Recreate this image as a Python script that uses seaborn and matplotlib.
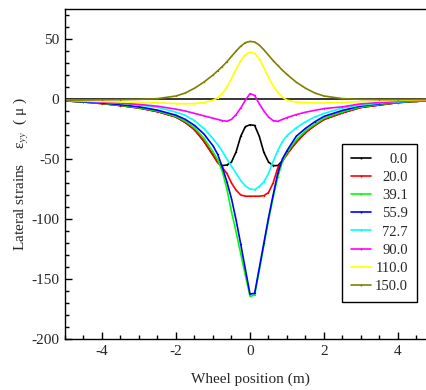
import numpy as np
import pandas as pd
import seaborn as sns
import matplotlib.pyplot as plt
from matplotlib.ticker import MultipleLocator

# Wheel position (m)
x = [-5, -4.5, -4, -3.5, -3, -2.5, -2, -1.75, -1.5, -1.25, -1, -0.875, -0.75,
     -0.625, -0.5, -0.375, -0.25, -0.125, 0, 0.125, 0.25, 0.375, 0.5, 0.625,
     0.75, 0.875, 1, 1.25, 1.5, 1.75, 2, 2.5, 3, 3.5, 4, 4.5, 5]

# Lateral strains per series (micro strain)
s_00 = [-1.5, -2.5, -3.8, -5.5, -7.5, -10.5, -15, -19.5, -25.5, -35, -46.5, -52.5, -55.5,
        -55, -52.5, -44, -31, -23, -21.5, -22, -31, -44.5, -52.5, -55.5,
        -55.5, -51.5, -45.5, -36, -28, -22, -17, -11.5, -7, -5, -3, -2, -1]
s_20 = [-1.5, -2.5, -3.8, -5.5, -7.5, -10.5, -15, -19.5, -25.5, -35, -47, -53, -57,
        -62, -70, -76, -80, -81, -81, -81, -81, -80.5, -78, -70,
        -57.5, -52, -46, -36, -28, -22, -17, -11.5, -7, -5, -3, -2, -1]
s_39 = [-1.5, -2.4, -3.6, -5.2, -7.2, -10, -14.5, -18.5, -24, -32.5, -44, -50.5, -60,
        -75, -94, -111, -129, -147, -164.5, -163.5, -143, -122, -101, -82,
        -65, -52, -44.5, -34, -26.5, -21, -16, -10.5, -6.5, -4.5, -2.8, -1.8, -1]
s_56 = [-1.5, -2.3, -3.3, -4.7, -6.5, -9.3, -13.5, -17, -22, -29, -39, -46, -56.5,
        -69, -83, -101, -121, -142, -162.5, -162, -141, -120, -99, -80,
        -62, -50, -43, -31, -24.5, -19, -14.5, -9.5, -5.8, -4, -2.5, -1.6, -0.9]
s_73 = [-1.2, -1.8, -2.6, -3.6, -5, -7, -11, -13.5, -18, -24.5, -33, -38, -43.5,
        -50, -56, -62, -68, -72.5, -75, -75.6, -73, -69, -62, -52,
        -43, -35.5, -30.5, -24, -19, -15, -12, -7.5, -5, -3.5, -2.3, -1.5, -1]
s_90 = [-1, -1.8, -2.5, -3.5, -4.5, -6, -8.5, -10, -12, -14, -16, -17, -18,
        -18.5, -17, -13, -7.5, -1, 4.5, 3, -4, -10, -15, -18,
        -18.6, -17, -15.5, -13, -11, -9.5, -8, -6.5, -4, -3, -2, -1.3, -0.8]
s_110 = [-1, -1.5, -2, -2.5, -2.8, -3.2, -3.8, -4, -3.8, -3, -1, 1, 4.5,
         10, 17, 25, 32, 37, 39, 38, 33.5, 26, 18, 11,
         5.5, 1.5, -1, -2.5, -3, -3.3, -3.3, -3, -2.2, -1.7, -1.2, -0.8, -0.5]
s_150 = [-1, -0.8, -0.7, -0.6, -0.3, 0.3, 2.5, 5, 9, 14, 20, 23.5, 27,
         31, 35.5, 40, 44, 47, 48, 47.5, 45, 41, 36.5, 32,
         28, 24, 20.5, 14, 9, 5, 2.5, 0.3, -0.3, -0.5, -0.5, -0.4, -0.3]

labels = ["0.0", "20.0", "39.1", "55.9", "72.7", "90.0", "110.0", "150.0"]
series = [s_00, s_20, s_39, s_56, s_73, s_90, s_110, s_150]
colors = ["#000000", "#ff0000", "#00ff00", "#0000ff", "#00ffff", "#ff00ff", "#ffff00", "#808000"]

df = pd.concat([pd.DataFrame({"pos": x, "strain": s, "case": lab})
                for lab, s in zip(labels, series)], ignore_index=True)

sns.set_style("ticks")
plt.rcParams["font.family"] = ["Liberation Serif", "DejaVu Serif"]
plt.rcParams["mathtext.fontset"] = "stix"
plt.rcParams["axes.unicode_minus"] = False

fig = plt.figure(figsize=(4.27, 3.90), dpi=100)
ax = fig.add_axes([65 / 427, 51 / 390, 370 / 427, 330 / 390])

ax.axhline(0, color="black", lw=1.1, zorder=1)
sns.lineplot(data=df, x="pos", y="strain", hue="case", hue_order=labels,
             palette=colors, estimator=None, sort=True, lw=1.2,
             marker=".", markersize=2, markeredgewidth=0, ax=ax, zorder=2)

ax.set_xlim(-5, 5)
ax.set_ylim(-200, 75)
ax.xaxis.set_major_locator(MultipleLocator(2))
ax.xaxis.set_minor_locator(MultipleLocator(0.5))
ax.yaxis.set_major_locator(MultipleLocator(50))
ax.yaxis.set_minor_locator(MultipleLocator(10))
ax.tick_params(which="both", direction="in", labelsize=11, width=1, color="black")
ax.tick_params(which="major", length=5, pad=4)
ax.tick_params(which="minor", length=3)
for sp in ax.spines.values():
    sp.set_color("black")
    sp.set_linewidth(1)

ax.set_xlabel("Wheel position (m)", fontsize=11, labelpad=11)
ax.set_ylabel("Lateral strains    ε$_{yy}$  ( μ )", fontsize=11, labelpad=0)

handles, labs = ax.get_legend_handles_labels()
for h in handles:
    h.set_marker(".")
    h.set_markersize(3)
leg = ax.legend(handles, labs, loc="upper left", bbox_to_anchor=(0.749, 0.591),
                fontsize=10.5, frameon=True, fancybox=False, edgecolor="black",
                handlelength=1.4, handletextpad=0.25,
                labelspacing=0.34, borderpad=0.6, borderaxespad=0, framealpha=1)
leg.get_frame().set_linewidth(1)

# right-align the legend labels like the original
fig.canvas.draw()
renderer = fig.canvas.get_renderer()
widths = [t.get_window_extent(renderer).width for t in leg.get_texts()]
shift = max(widths)
for t, w in zip(leg.get_texts(), widths):
    t.set_position((shift - w, 0))

fig.savefig("out.png", dpi=100)
